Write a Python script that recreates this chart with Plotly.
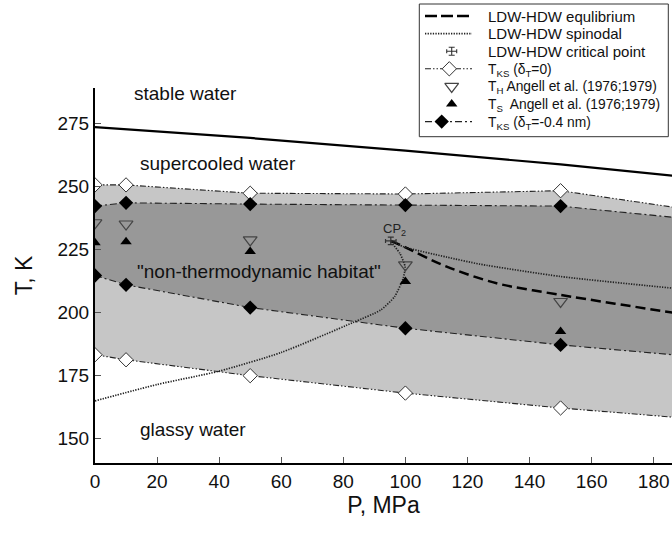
import plotly.graph_objects as go

# ---- data ----
P_ks = [0, 10, 50, 100, 150, 200]
tks0_upper = [250.6, 250.6, 247.3, 247.0, 248.3, 239.3]
tks0_lower = [183.3, 181.3, 175.0, 168.1, 162.2, 157.2]
tks04_upper = [242.2, 243.5, 243.0, 242.6, 242.2, 236.1]
tks04_lower = [214.7, 211.0, 202.0, 193.8, 187.2, 181.8]

P_angell = [0, 10, 50, 100, 150]
T_H = [235.6, 235.1, 228.8, 218.9, 204.4]
T_S = [227.7, 228.1, 224.2, 212.3, 192.5]

P_melt = [0, 50, 100, 150, 200]
T_melt = [273.5, 269.2, 264.2, 258.7, 252.5]

P_spin = [0, 20, 40, 60, 83, 92, 96.5, 99.3, 99.9, 98.2, 95.3, 99.3, 113.3, 124, 150, 186, 200]
T_spin = [165, 171.5, 176.8, 184.2, 196.0, 201, 206.3, 213.6, 218.2, 223.5, 228.4, 226.1, 222, 219.2, 214.3, 209.7, 208.2]

P_eq = [95.3, 98.3, 113.3, 129.4, 150, 186, 200]
T_eq = [228.4, 226.8, 218.2, 211.6, 207, 200, 197.3]

P_cp = [95.3]
T_cp = [228.4]
P_cp_err = [1.7]
T_cp_err = [1.5]

region_labels = ["stable water", "supercooled water", '"non-thermodynamic habitat"', "glassy water"]
region_P = [11.8, 13.9, 12.9, 14.0]
region_T = [287.0, 259.1, 216.2, 153.6]

legend_labels = [
    "LDW-HDW equlibrium",
    "LDW-HDW spinodal",
    "LDW-HDW critical point",
    "T<sub>KS</sub> (δ<sub>T</sub>=0)",
    "T<sub>H</sub> Angell et al. (1976;1979)",
    "T<sub>S</sub>  Angell et al. (1976;1979)",
    "T<sub>KS</sub> (δ<sub>T</sub>=-0.4 nm)",
]

x_ticks = [0, 20, 40, 60, 80, 100, 120, 140, 160, 180]
y_ticks = [150, 175, 200, 225, 250, 275]

FONT = "Liberation Sans, Arial, sans-serif"
LIGHT = "#c6c6c6"
DARK = "#989898"
EQ_DASH = "10px,5px"
SP_DASH = "1.3px,1.3px"
KS0_DASH = "6px,2px,1.5px,2px,1.5px,2px"
KS04_DASH = "7px,3px,2px,3px"

W, H = 672, 537
ML, MR, MT, MB = 95, 0, 0, 74
PLOT_TOP = 88  # pixel row of the top of the main axes
paper_h = H - MT - MB

fig = go.Figure()

# ---------------- main subplot ----------------
fig.add_trace(go.Scatter(x=P_ks, y=tks0_lower, mode="lines", line=dict(width=0),
                         showlegend=False, hoverinfo="skip"))
fig.add_trace(go.Scatter(x=P_ks, y=tks0_upper, mode="lines", line=dict(width=0),
                         fill="tonexty", fillcolor=LIGHT, showlegend=False, hoverinfo="skip"))
fig.add_trace(go.Scatter(x=P_ks, y=tks04_lower, mode="lines", line=dict(width=0),
                         showlegend=False, hoverinfo="skip"))
fig.add_trace(go.Scatter(x=P_ks, y=tks04_upper, mode="lines", line=dict(width=0),
                         fill="tonexty", fillcolor=DARK, showlegend=False, hoverinfo="skip"))

fig.add_trace(go.Scatter(x=P_melt, y=T_melt, mode="lines", line=dict(color="black", width=2.2, shape="spline"),
                         showlegend=False))
fig.add_trace(go.Scatter(x=P_eq, y=T_eq, mode="lines", showlegend=False,
                         line=dict(color="black", width=2.5, dash=EQ_DASH, shape="spline", smoothing=0.8)))
fig.add_trace(go.Scatter(x=P_spin, y=T_spin, mode="lines", showlegend=False,
                         line=dict(color="#222222", width=1.7, dash=SP_DASH, shape="spline", smoothing=0.6)))
fig.add_trace(go.Scatter(x=P_cp, y=T_cp, mode="markers", showlegend=False,
                         marker=dict(size=1, color="#333333"),
                         error_x=dict(type="data", array=P_cp_err, color="#333333", thickness=1.2, width=2),
                         error_y=dict(type="data", array=T_cp_err, color="#333333", thickness=1.2, width=3)))
for ys in (tks0_upper, tks0_lower):
    fig.add_trace(go.Scatter(x=P_ks, y=ys, mode="lines+markers", showlegend=False,
                             line=dict(color="#222222", width=1.1, dash=KS0_DASH),
                             marker=dict(symbol="diamond", size=11, color="white",
                                         line=dict(color="#333333", width=1))))
fig.add_trace(go.Scatter(x=P_angell, y=T_H, mode="markers", showlegend=False,
                         marker=dict(symbol="triangle-down-open", size=12, color="#444444",
                                     line=dict(width=1.2))))
fig.add_trace(go.Scatter(x=P_angell, y=T_S, mode="markers", showlegend=False,
                         marker=dict(symbol="triangle-up", size=10, color="black")))
for ys in (tks04_upper, tks04_lower):
    fig.add_trace(go.Scatter(x=P_ks, y=ys, mode="lines+markers", showlegend=False,
                             line=dict(color="#222222", width=1.1, dash=KS04_DASH),
                             marker=dict(symbol="diamond", size=11, color="black")))

# ---------------- legend (drawn on a pixel-unit overlay subplot) ----------------
box_x0, box_x1, box_y0, box_y1 = 419.3, 668.3, 4.0, 136.7
row_y = [16.0, 33.6, 51.2, 68.8, 86.4, 104.0, 121.6]
sym_x0, sym_x1, text_x = 425.0, 472.0, 486.0

def L(**kw):
    return go.Scatter(xaxis="x2", yaxis="y2", showlegend=False, hoverinfo="skip", **kw)

fig.add_trace(L(x=[box_x0, box_x1, box_x1, box_x0, box_x0], y=[box_y0, box_y0, box_y1, box_y1, box_y0],
                mode="lines", fill="toself", fillcolor="white", line=dict(color="#333333", width=1)))
fig.add_trace(L(x=[sym_x0, sym_x1], y=[row_y[0]] * 2, mode="lines",
                line=dict(color="black", width=2.5, dash="12px,4px")))
fig.add_trace(L(x=[sym_x0, sym_x1], y=[row_y[1]] * 2, mode="lines",
                line=dict(color="#222222", width=1.7, dash=SP_DASH)))
fig.add_trace(L(x=[451.7], y=[row_y[2]], mode="markers", marker=dict(size=1, color="#333333"),
                error_x=dict(type="data", array=[5], color="#333333", thickness=1.1, width=2),
                error_y=dict(type="data", array=[4], color="#333333", thickness=1.1, width=3)))
fig.add_trace(L(x=[sym_x0, sym_x1], y=[row_y[3]] * 2, mode="lines",
                line=dict(color="#222222", width=1.1, dash=KS0_DASH)))
fig.add_trace(L(x=[449.3], y=[row_y[3]], mode="markers",
                marker=dict(symbol="diamond", size=11, color="white", line=dict(color="#333333", width=1))))
fig.add_trace(L(x=[451.7], y=[row_y[4]], mode="markers",
                marker=dict(symbol="triangle-down-open", size=12, color="#444444", line=dict(width=1.2))))
fig.add_trace(L(x=[451.7], y=[row_y[5]], mode="markers",
                marker=dict(symbol="triangle-up", size=10, color="black")))
fig.add_trace(L(x=[sym_x0, sym_x1], y=[row_y[6]] * 2, mode="lines",
                line=dict(color="#222222", width=1.1, dash=KS04_DASH)))
fig.add_trace(L(x=[441.7], y=[row_y[6]], mode="markers",
                marker=dict(symbol="diamond", size=11, color="black")))

annotations = []
for txt, px, ty in zip(region_labels, region_P, region_T):
    annotations.append(dict(x=px, y=ty, text=txt, xref="x", yref="y", showarrow=False,
                            xanchor="left", yanchor="middle",
                            font=dict(family=FONT, size=19, color="#111111")))
annotations.append(dict(x=P_cp[0] + 1.2, y=T_cp[0] + 4.7, text="CP<sub>2</sub>", xref="x", yref="y",
                        showarrow=False, xanchor="center", yanchor="middle",
                        font=dict(family=FONT, size=13, color="#222222")))
for txt, ry in zip(legend_labels, row_y):
    sub = "<sub>" in txt
    annotations.append(dict(x=text_x, y=ry + (1.5 if sub else 0), text=txt, xref="x2", yref="y2",
                            showarrow=False, xanchor="left", yanchor="middle",
                            font=dict(family=FONT, size=13.8 if sub else 15, color="#111111")))

fig.update_layout(
    width=W, height=H,
    margin=dict(l=ML, r=MR, t=MT, b=MB),
    paper_bgcolor="white", plot_bgcolor="rgba(0,0,0,0)",
    font=dict(family=FONT, size=19, color="#111111"),
    annotations=annotations,
    showlegend=False,
    xaxis=dict(range=[0, 185.9], tickvals=x_ticks, ticks="inside", ticklen=6, tickcolor="#555555",
               showline=True, linecolor="black", linewidth=2, showgrid=False, zeroline=False,
               title=dict(text="P, MPa", standoff=6), tickfont=dict(size=19), anchor="y"),
    yaxis=dict(range=[140.4, 289.0], domain=[0, (H - MB - PLOT_TOP) / paper_h],
               tickvals=y_ticks, ticks="inside", ticklen=6, tickcolor="#555555",
               showline=True, linecolor="black", linewidth=2, showgrid=False, zeroline=False,
               title=dict(text="T, K", standoff=18), tickfont=dict(size=19), anchor="x"),
    xaxis2=dict(range=[ML, W - MR], domain=[0, 1], visible=False, anchor="y2", fixedrange=True),
    yaxis2=dict(range=[H - MB, MT], domain=[0, 1], visible=False, anchor="x2", fixedrange=True),
)

fig.write_html("out.html")
